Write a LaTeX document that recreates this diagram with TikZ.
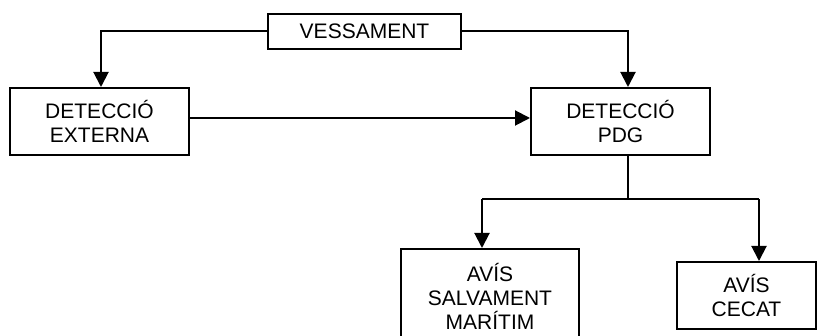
\documentclass[tikz,border=0pt]{standalone}
\usepackage{fontspec}
\setmainfont{Liberation Sans}
\usetikzlibrary{arrows.meta}
\begin{document}
\begin{tikzpicture}[x=1pt,y=1pt,
  box/.style={draw,line width=2pt,align=center,inner sep=0pt,font=\fontsize{21}{24}\selectfont},
  arr/.style={line width=2pt,-{Triangle[length=15pt,width=15pt]}},
  ln/.style={line width=2pt}]
\useasboundingbox (0,0) rectangle (817,-336);
\node[box,minimum width=193pt,minimum height=35pt] (vess) at (364.5,-31.5) {VESSAMENT};
\node[box,minimum width=179pt,minimum height=67pt] (ext) at (99.5,-121.5) {DETECCIÓ\\EXTERNA};
\node[box,minimum width=179pt,minimum height=67pt] (pdg) at (620.5,-121.5) {DETECCIÓ\\PDG};
\node[box,minimum width=178pt,minimum height=94pt] (sal) at (490,-296) {AVÍS\\SALVAMENT\\MARÍTIM};
\node[box,minimum width=139pt,minimum height=67pt] (cec) at (746.5,-295.5) {AVÍS\\CECAT};
\coordinate (vl) at (101,-31.5);
\coordinate (vr) at (628,-31.5);
\coordinate (split) at (628,-199);
\coordinate (sl) at (482,-199);
\coordinate (sr) at (759,-199);
\draw[arr] (vess.west) -- (vl) -- (vl |- ext.north);
\draw[arr] (vess.east) -- (vr) -- (vr |- pdg.north);
\draw[arr] (ext.east |- 0,-118) -- (pdg.west |- 0,-118);
\draw[ln] (split |- pdg.south) -- (split);
\draw[ln] (sl) -- (sr);
\draw[arr] (sl) -- (sl |- sal.north);
\draw[arr] (sr) -- (sr |- cec.north);
\end{tikzpicture}
\end{document}
